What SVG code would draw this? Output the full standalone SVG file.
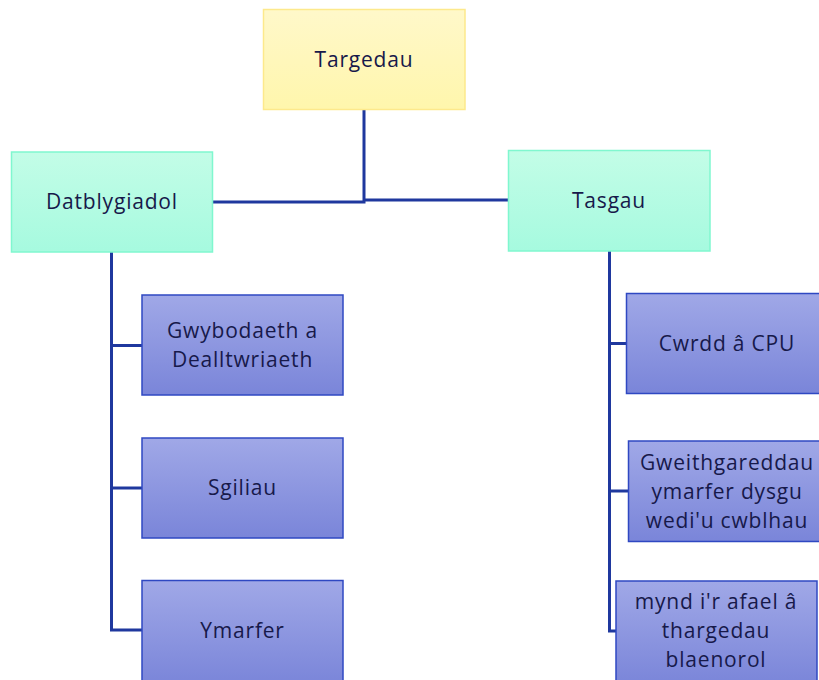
<svg xmlns="http://www.w3.org/2000/svg" width="819" height="680" viewBox="0 0 819 680">
<defs>
<linearGradient id="gY" x1="0" y1="0" x2="0" y2="1"><stop offset="0" stop-color="#fff8ca"/><stop offset="1" stop-color="#fff6ac"/></linearGradient>
<linearGradient id="gG" x1="0" y1="0" x2="0" y2="1"><stop offset="0" stop-color="#c3fde7"/><stop offset="1" stop-color="#a6fadf"/></linearGradient>
<linearGradient id="gB" x1="0" y1="0" x2="0" y2="1"><stop offset="0" stop-color="#a0a8e7"/><stop offset="1" stop-color="#7a85d9"/></linearGradient>
<style>
.y{fill:url(#gY);stroke:#fde98c;stroke-width:1.5}
.g{fill:url(#gG);stroke:#80f7cf;stroke-width:1.5}
.b{fill:url(#gB);stroke:#2f48c2;stroke-width:1.5}
.t{font-family:"Open Sans","Liberation Sans",sans-serif;font-size:21px;fill:#17194a;text-anchor:middle;letter-spacing:0.8px}
.c{fill:none;stroke:#1f389e;stroke-width:3}
</style>
</defs>
<g id="connectors">
<path class="c" d="M364,110 V202 H212"/>
<path class="c" d="M364,200 H508"/>
<path class="c" d="M111.5,252 V630 H142"/>
<path class="c" d="M111.5,345.5 H142"/>
<path class="c" d="M111.5,488 H142"/>
<path class="c" d="M609.5,251 V631 H616"/>
<path class="c" d="M609.5,343.5 H626"/>
<path class="c" d="M609.5,491 H628"/>
</g>
<g id="n-targedau"><rect class="y" x="263.5" y="9.5" width="201.5" height="100"/><text class="t" x="364" y="67">Targedau</text></g>
<g id="n-datblygiadol"><rect class="g" x="11.5" y="152" width="201" height="100"/><text class="t" x="112" y="209">Datblygiadol</text></g>
<g id="n-tasgau"><rect class="g" x="508.5" y="150.5" width="201.5" height="100.5"/><text class="t" x="609" y="208">Tasgau</text></g>
<g id="n-gwybodaeth"><rect class="b" x="142" y="295" width="201" height="100"/><text class="t" x="242.5" y="338">Gwybodaeth a</text><text class="t" x="242.5" y="367">Dealltwriaeth</text></g>
<g id="n-sgiliau"><rect class="b" x="142" y="438" width="201" height="100"/><text class="t" x="242.5" y="495">Sgiliau</text></g>
<g id="n-ymarfer"><rect class="b" x="142" y="580.5" width="201" height="104"/><text class="t" x="242.5" y="638">Ymarfer</text></g>
<g id="n-cwrdd"><rect class="b" x="626.5" y="293.5" width="201" height="100"/><text class="t" x="727" y="351">Cwrdd â CPU</text></g>
<g id="n-gweithgareddau"><rect class="b" x="628.5" y="441" width="201" height="100.5"/><text class="t" x="727" y="470">Gweithgareddau</text><text class="t" x="727" y="499">ymarfer dysgu</text><text class="t" x="727" y="528">wedi'u cwblhau</text></g>
<g id="n-mynd"><rect class="b" x="616" y="581" width="201" height="104"/><text class="t" x="716" y="609">mynd i'r afael â</text><text class="t" x="716" y="638">thargedau</text><text class="t" x="716" y="667">blaenorol</text></g>
</svg>
